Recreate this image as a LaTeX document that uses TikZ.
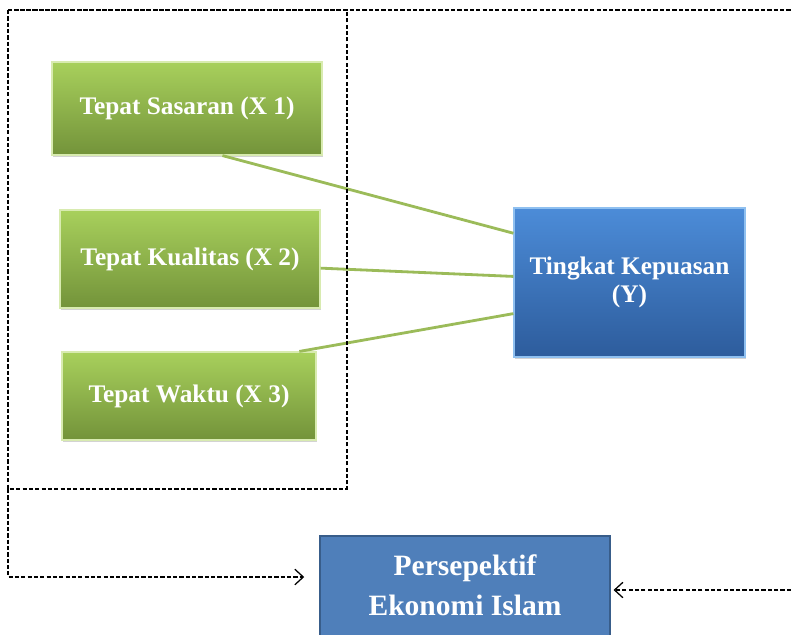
\documentclass[tikz,border=0pt]{standalone}
\usepackage{fontspec}
\setmainfont{Liberation Serif}
\usetikzlibrary{shadows,arrows.meta}
\definecolor{leafhi}{HTML}{A8D05C}
\definecolor{leaflo}{HTML}{73933A}
\definecolor{leafrim}{HTML}{D8EBB0}
\definecolor{leafline}{HTML}{9BBB59}
\definecolor{skyhi}{HTML}{4C8CD8}
\definecolor{skylo}{HTML}{2D5C9C}
\definecolor{skyrim}{HTML}{8FC0F0}
\definecolor{islamfill}{HTML}{4F7FBA}
\definecolor{islamedge}{HTML}{385D8A}

\begin{document}
\begin{tikzpicture}[x=0.025cm, y=-0.025cm,
  factor/.style={top color=leafhi, bottom color=leaflo, draw=leafrim, line width=0.8pt,
    text=white, font=\bfseries\fontsize{18}{21}\selectfont, align=center,
    drop shadow={opacity=0.35, shadow xshift=1pt, shadow yshift=-1.5pt}},
  result/.style={top color=skyhi, bottom color=skylo, draw=skyrim, line width=0.8pt,
    text=white, font=\bfseries\fontsize{18}{20}\selectfont, align=center,
    drop shadow={opacity=0.35, shadow xshift=1pt, shadow yshift=-1.5pt}},
  view/.style={fill=islamfill, draw=islamedge, line width=1pt,
    text=white, font=\bfseries\fontsize{21}{28}\selectfont, align=center},
  link/.style={leafline, line width=2pt},
  frame/.style={black, line width=0.9pt, dash pattern=on 3pt off 1.5pt},
  flow/.style={frame, -{Straight Barb[length=6pt, width=11pt]}}
]
\clip (0,0) rectangle (791,634);

\node[factor, minimum width=6.75cm, minimum height=2.325cm] (x1) at (187,108.5) {Tepat Sasaran (X 1)};
\node[factor, minimum width=6.5cm, minimum height=2.45cm] (x2) at (190,259) {Tepat Kualitas (X 2)};
\node[factor, minimum width=6.35cm, minimum height=2.2cm] (x3) at (189,396) {Tepat Waktu (X 3)};
\node[result, minimum width=5.775cm, minimum height=3.725cm] (y) at (629.5,282.5) {Tingkat Kepuasan\\(Y)};
\node[view, minimum width=7.25cm, minimum height=3.2cm, text depth=0.75cm] (islam) at (465,600) {Persepektif\\Ekonomi Islam};

\draw[link] (x1.-53) -- (y.157);
\draw[link] (x2.-4) -- (y.177);
\draw[link] (x3.22) -- (y.195);

\draw[frame] (8,10) -- (791,10);
\draw[frame] (8,10) rectangle (347,489);

\coordinate (frameSW) at (8,489);
\coordinate (turnL) at (8,577);
\coordinate (frameE) at (791,590);
\draw[flow, shorten >=0.375cm] (frameSW) -- (turnL) -- (islam.west |- turnL);
\draw[flow, shorten >=2pt] (frameE) -- (islam.east |- frameE);
\end{tikzpicture}
\end{document}
